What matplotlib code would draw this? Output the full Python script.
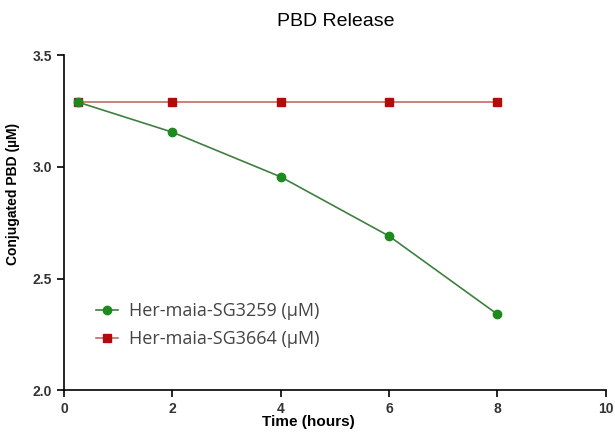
import matplotlib.pyplot as plt

# Data
time_hours = [0.25, 2, 4, 6, 8]
sg3259 = [3.29, 3.155, 2.955, 2.69, 2.34]
sg3664 = [3.29, 3.29, 3.29, 3.29, 3.29]

x_ticks = [0, 2, 4, 6, 8, 10]
y_ticks = [2.0, 2.5, 3.0, 3.5]

plt.rcParams['font.family'] = ['Liberation Sans', 'DejaVu Sans']

fig = plt.figure(figsize=(6.15, 4.37), dpi=100)
ax = fig.add_axes([0.104, 0.107, 0.881, 0.767])

ax.plot(time_hours, sg3664, color="#c46a6a", marker="s", markersize=6,
        markerfacecolor="#b00c0c", markeredgecolor="#b00c0c",
        linewidth=1.2, label="Her-maia-SG3664 (\u00b5M)", zorder=2)
ax.plot(time_hours, sg3259, color="#3f7f3f", marker="o", markersize=6,
        markerfacecolor="#1c8a1c", markeredgecolor="#1c8a1c",
        linewidth=1.2, label="Her-maia-SG3259 (\u00b5M)", zorder=3)

ax.set_xlim(0, 10)
ax.set_ylim(2.0, 3.5)
ax.set_xticks(x_ticks)
ax.set_yticks(y_ticks)
ax.set_yticklabels([f"{v:.1f}" for v in y_ticks])

for side in ["top", "right"]:
    ax.spines[side].set_visible(False)
for side in ["left", "bottom"]:
    ax.spines[side].set_linewidth(1.2)

ax.tick_params(direction="out", length=5, width=1.2, labelsize=10,
               labelcolor="#333333")
for lbl in ax.get_xticklabels() + ax.get_yticklabels():
    lbl.set_fontweight("bold")

ax.set_xlabel("Time (hours)", fontsize=11, fontweight="bold", labelpad=2)
ax.xaxis.set_label_coords(0.452, -0.075)
ax.set_ylabel("Conjugated PBD (\u00b5M)", fontsize=10, fontweight="bold")
ax.yaxis.set_label_coords(-0.082, 0.585)
fig.text(0.546, 0.951, "PBD Release", ha="center", va="center", fontsize=14)

handles, labels = ax.get_legend_handles_labels()
ax.legend(handles[::-1], labels[::-1], loc="lower left",
          bbox_to_anchor=(0.03, 0.078), frameon=False,
          prop={"family": "Open Sans", "size": 13},
          handlelength=1.2, handletextpad=0.6, labelspacing=0.55,
          labelcolor="#444444")

fig.savefig("out.png", dpi=100)
